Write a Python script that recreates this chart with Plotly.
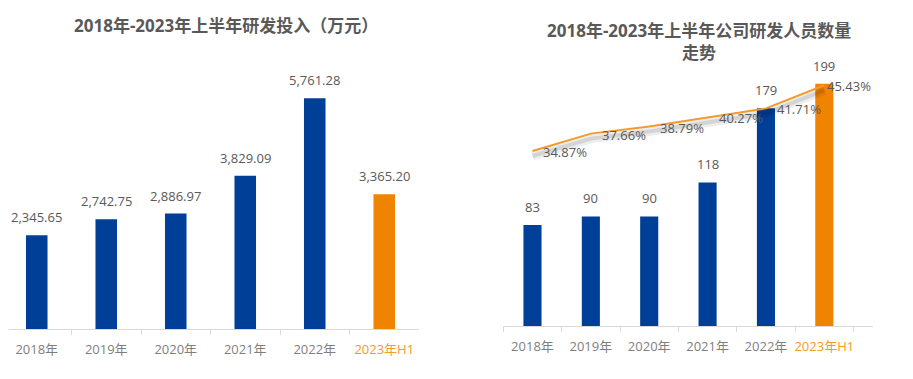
import plotly.graph_objects as go

# ---------------- data ----------------
years = ["2018年", "2019年", "2020年", "2021年", "2022年", "2023年H1"]
rd_invest = [2345.65, 2742.75, 2886.97, 3829.09, 5761.28, 3365.20]   # 万元
rd_staff = [83, 90, 90, 118, 179, 199]
rd_staff_pct = [34.87, 37.66, 38.79, 40.27, 41.71, 45.43]
title_left = "2018年-2023年上半年研发投入（万元）"
title_right = "2018年-2023年上半年公司研发人员数量<br>走势"

# ---------------- style ----------------
BLUE = "#003F98"
ORANGE = "#F08300"
LINE_ORANGE = "#F39A2B"
TEXT = "#595959"
TICK = "#7F7F7F"
AXIS = "#D9D9D9"
FONT = "Open Sans, Noto Sans CJK SC, sans-serif"
OFF = 8                      # page body margin
W, H = 913 - OFF, 379 - OFF  # figure size

bar_colors = [BLUE] * (len(years) - 1) + [ORANGE]
ticktext = [y if i < len(years) - 1 else f"<span style='color:{LINE_ORANGE}'>{y}</span>"
            for i, y in enumerate(years)]

def px_x(p):
    return (p - OFF) / W

def px_y(p):
    return (H - (p - OFF)) / H

fig = go.Figure()

# left chart: R&D investment
fig.add_trace(go.Bar(x=years, y=rd_invest, marker=dict(color=bar_colors, line=dict(width=0)),
                     width=0.31, xaxis="x", yaxis="y", showlegend=False, hoverinfo="x+y"))

# right chart: staff count bars
fig.add_trace(go.Bar(x=years, y=rd_staff, marker=dict(color=bar_colors, line=dict(width=0)),
                     width=0.31, xaxis="x2", yaxis="y2", showlegend=False, hoverinfo="x+y"))

# line shadow (same data on a slightly shifted axis)
fig.add_trace(go.Scatter(x=years, y=rd_staff_pct, mode="lines", xaxis="x2", yaxis="y3",
                         line=dict(color="rgba(0,0,0,0.07)", width=9), showlegend=False,
                         hoverinfo="skip"))
fig.add_trace(go.Scatter(x=years, y=rd_staff_pct, mode="lines", xaxis="x2", yaxis="y3",
                         line=dict(color="rgba(0,0,0,0.10)", width=4), showlegend=False,
                         hoverinfo="skip"))
# percentage line
fig.add_trace(go.Scatter(x=years, y=rd_staff_pct, mode="lines", xaxis="x2", yaxis="y4",
                         line=dict(color=LINE_ORANGE, width=2), showlegend=False))

annotations = []
for x, v in zip(years, rd_invest):
    annotations.append(dict(x=x, y=v, xref="x", yref="y", text=f"{v:,.2f}", showarrow=False,
                            yanchor="bottom", yshift=7, font=dict(size=13, color=TEXT, family=FONT)))
for x, v in zip(years, rd_staff):
    annotations.append(dict(x=x, y=v, xref="x2", yref="y2", text=f"{v}", showarrow=False,
                            yanchor="bottom", yshift=7, font=dict(size=13, color=TEXT, family=FONT)))
for i, (x, v) in enumerate(zip(years, rd_staff_pct)):
    last = i == len(years) - 1
    annotations.append(dict(x=x, y=v, xref="x2", yref="y4", text=f"{v:.2f}%", showarrow=False,
                            xanchor="left", xshift=1 if last else 9, yanchor="middle", yshift=-1,
                            font=dict(size=13, color=TEXT, family=FONT)))

annotations.append(dict(x=px_x(226), y=px_y(25.5), xref="paper", yref="paper", text=f"<b>{title_left}</b>",
                        showarrow=False, xanchor="center", yanchor="middle",
                        font=dict(size=17, color=TEXT, family=FONT)))
annotations.append(dict(x=px_x(698.5), y=px_y(41), xref="paper", yref="paper", text=f"<b>{title_right}</b>",
                        showarrow=False, xanchor="center", yanchor="middle",
                        font=dict(size=17, color=TEXT, family=FONT)))

xcommon = dict(type="category", categoryorder="array", categoryarray=years,
               tickvals=years, ticktext=ticktext, showline=True, linecolor=AXIS, linewidth=1,
               ticks="outside", tickson="boundaries", ticklen=5, tickcolor=AXIS, tickangle=0,
               tickfont=dict(size=13, color=TICK, family=FONT), showgrid=False, zeroline=False,
               ticklabelstandoff=8, fixedrange=True)

# scale parameters (pixel columns/rows in the page)
left_x0, left_x1 = 2.0, 419.0          # full category band of the left chart
left_cat_px = (left_x1 - left_x0) / len(years)
left_dom0 = OFF + 0.5                  # figure cannot start left of the body margin
left_range0 = -0.5 + (left_dom0 - left_x0) / left_cat_px

left_bottom, top = 329.3, 50.0
right_bottom = 326.0
left_px_per_unit = 0.0401
right_px_per_unit = 1.217
pct_px = 6.23
pct_ref_px = 151.0  # pixel row of the first percentage point
pct_lo = rd_staff_pct[0] - (right_bottom - pct_ref_px) / pct_px
pct_hi = pct_lo + (right_bottom - top) / pct_px
shadow = 5.0 / pct_px

ycommon = dict(visible=False, showgrid=False, zeroline=False, fixedrange=True)

fig.update_layout(
    width=W, height=H,
    margin=dict(l=0, r=0, t=0, b=0),
    paper_bgcolor="white", plot_bgcolor="white",
    font=dict(family=FONT, color=TEXT),
    xaxis=dict(domain=[px_x(left_dom0), px_x(left_x1)], anchor="y",
               range=[left_range0, len(years) - 0.5], **xcommon),
    yaxis=dict(domain=[px_y(left_bottom), px_y(top)],
               range=[0, (left_bottom - top) / left_px_per_unit], **ycommon),
    xaxis2=dict(domain=[px_x(503.3), px_x(873.3)], anchor="y2", **xcommon),
    yaxis2=dict(domain=[px_y(right_bottom), px_y(top)],
                range=[0, (right_bottom - top) / right_px_per_unit], anchor="x2", **ycommon),
    yaxis3=dict(overlaying="y2", anchor="x2", range=[pct_lo + shadow, pct_hi + shadow], **ycommon),
    yaxis4=dict(overlaying="y2", anchor="x2", range=[pct_lo, pct_hi], **ycommon),
    annotations=annotations,
    bargap=0.69,
)

fig.write_html("out.html")
